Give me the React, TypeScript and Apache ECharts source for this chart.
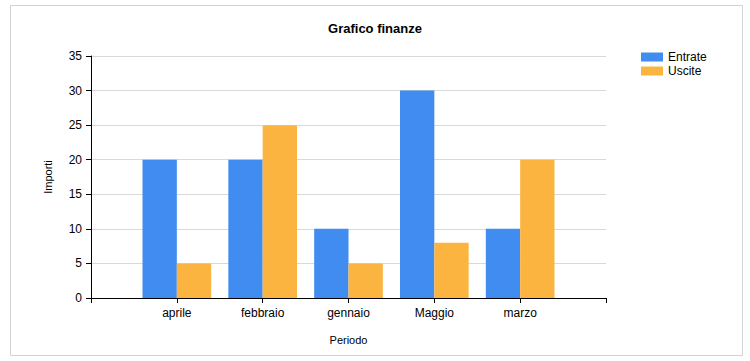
import React, { useEffect, useRef } from "react";
import * as echarts from "echarts";

const categories = ["aprile", "febbraio", "gennaio", "Maggio", "marzo"];
const entrate = [20, 20, 10, 30, 10];
const uscite = [5, 25, 5, 8, 20];
const seriesNames = ["Entrate", "Uscite"];
const colors = ["#418CF0", "#FCB441"];

export default function App() {
  const ref = useRef<HTMLDivElement>(null);
  useEffect(() => {
    if (!ref.current) return;
    const chart = echarts.init(ref.current, undefined, { renderer: "svg" });
    const axisCats = ["", ...categories, ""];
    const pad = (arr: number[]) => [null, ...arr, null];
    const font = "Liberation Sans, Arial, sans-serif";
    chart.setOption({
      animation: false,
      textStyle: { fontFamily: font },
      title: {
        text: "Grafico finanze",
        left: "center",
        top: 17,
        textStyle: { fontSize: 13, fontWeight: "bold", color: "#000", fontFamily: font },
      },
      legend: {
        orient: "vertical",
        left: 641,
        top: 51,
        padding: 0,
        itemWidth: 22,
        itemHeight: 9,
        itemGap: 2,
        icon: "rect",
        textStyle: { fontSize: 12, lineHeight: 12, color: "#000", fontFamily: font },
        data: seriesNames,
      },
      graphic: [
        {
          type: "rect",
          shape: { x: 10.5, y: 5.5, width: 732, height: 350 },
          style: { fill: "none", stroke: "#d3d3d3", lineWidth: 1 },
          silent: true,
        },
      ],
      grid: { left: 91, right: 144, top: 56, bottom: 63 },
      xAxis: {
        type: "category",
        data: axisCats,
        boundaryGap: false,
        name: "Periodo",
        nameLocation: "middle",
        nameGap: 36,
        nameTextStyle: { fontSize: 11, color: "#000", fontFamily: font },
        axisLine: { lineStyle: { color: "#000", width: 1 } },
        axisTick: { show: true, interval: 0, length: 5, lineStyle: { color: "#000" } },
        axisLabel: { interval: 0, fontSize: 12, color: "#000", margin: 9, fontFamily: font },
        splitLine: { show: false },
      },
      yAxis: {
        type: "value",
        min: 0,
        max: 35,
        interval: 5,
        name: "Importi",
        nameLocation: "middle",
        nameGap: 38,
        nameRotate: 90,
        nameTextStyle: { fontSize: 11, color: "#000", fontFamily: font },
        axisLine: { show: true, lineStyle: { color: "#000", width: 1 } },
        axisTick: { show: true, length: 5, lineStyle: { color: "#000" } },
        axisLabel: { fontSize: 12, color: "#000", margin: 9, fontFamily: font },
        splitLine: { lineStyle: { color: "#d9d9d9", width: 1 } },
      },
      series: [
        {
          name: seriesNames[0],
          type: "bar",
          data: pad(entrate),
          itemStyle: { color: colors[0] },
          barGap: "0%",
          barCategoryGap: "20%",
        },
        {
          name: seriesNames[1],
          type: "bar",
          data: pad(uscite),
          itemStyle: { color: colors[1] },
          barGap: "0%",
          barCategoryGap: "20%",
        },
      ],
    });
    return () => chart.dispose();
  }, []);
  return (
    <div
      ref={ref}
      style={{ position: "absolute", left: 0, top: 0, width: 750, height: 361, background: "#fff" }}
    />
  );
}
